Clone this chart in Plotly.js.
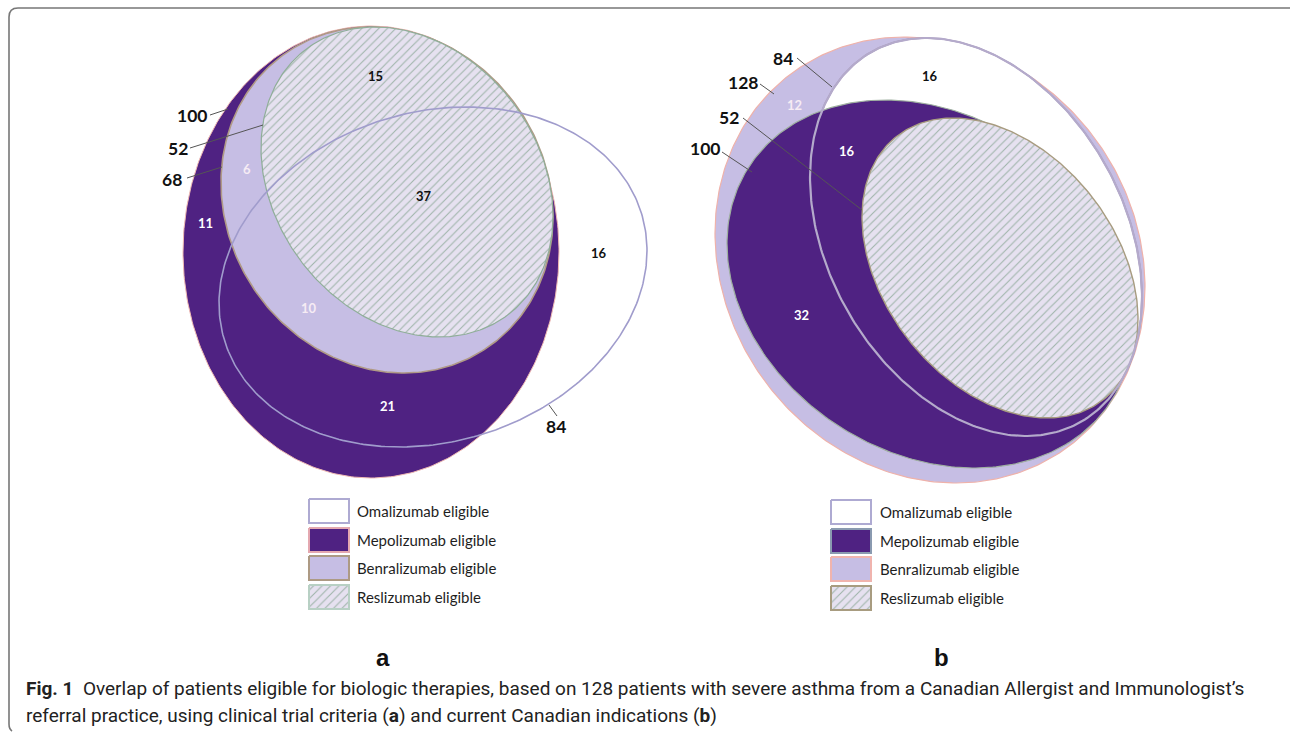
<!DOCTYPE html>
<html>
<head>
<meta charset="utf-8">
<script src="https://cdn.plot.ly/plotly-3.0.1.min.js"></script>
<style>
html,body{margin:0;padding:0;background:#fff;}
#chart{width:1292px;height:732px;}
</style>
</head>
<body>
<div id="chart"></div>
<script>
// ---------------- DATA ----------------
const setNames = ['Omalizumab eligible', 'Mepolizumab eligible', 'Benralizumab eligible', 'Reslizumab eligible'];
// set totals (Omalizumab, Mepolizumab, Benralizumab, Reslizumab)
const totalsA = [84, 100, 68, 52];
const totalsB = [84, 100, 128, 52];
// region counts
const regionCountsA = [15, 37, 16, 6, 11, 10, 21];
const regionCountsB = [16, 12, 16, 32];
const panelLabels = ['a', 'b'];
const captionBold = 'Fig. 1';
const captionLine1 = 'Overlap of patients eligible for biologic therapies, based on 128 patients with severe asthma from a Canadian Allergist and Immunologist\u2019s';
const captionLine2 = 'referral practice, using clinical trial criteria (<b>a</b>) and current Canadian indications (<b>b</b>)';

// ---------------- GEOMETRY / STYLE ----------------
const PURPLE = '#4f2282', LAV = '#c6bee4', HBG = '#e6e1f0', HFG = '#9fb4aa';
const geomA = {
  mepo:  {cx: 371, cy: 252, xh: 188, yh: 226, k: 0.0},
  benra: {cx: 387, cy: 200, xh: 166, yh: 173, k: 0.1},
  resli: {cx: 407, cy: 182, xh: 146, yh: 155, k: 0.22},
  omal:  {cx: 433, cy: 277, xh: 214, yh: 170, k: -0.155}
};
const geomB = {
  benra: {cx: 930, cy: 260, xh: 215, yh: 223, k: 0.12},
  omal:  {cx: 976, cy: 237, xh: 166, yh: 199, k: 0.3},
  mepo:  {cx: 930, cy: 284, xh: 203, yh: 184, k: 0.22},
  resli: {cx: 1000, cy: 268, xh: 138, yh: 150, k: 0.34}
};
function ellipse(e) {
  const xs = [], ys = [], s = Math.sqrt(1 - e.k * e.k);
  for (let i = 0; i <= 360; i++) {
    const t = i * Math.PI / 180;
    xs.push(e.cx + e.xh * Math.cos(t));
    ys.push(e.cy + e.yh * (e.k * Math.cos(t) + s * Math.sin(t)));
  }
  return {xs, ys};
}
function shapeTrace(e, fill, line, lw, pattern) {
  const p = ellipse(e);
  const tr = {x: p.xs, y: p.ys, type: 'scatter', mode: 'lines', hoverinfo: 'skip', showlegend: false,
    line: {color: line, width: lw}};
  if (fill) { tr.fill = 'toself'; tr.fillcolor = fill; }
  if (pattern) { tr.fill = 'toself'; tr.fillpattern = pattern; }
  return tr;
}
const hatch = {shape: '/', bgcolor: HBG, fgcolor: HFG, size: 6, solidity: 0.18};

const traces = [];
// Panel a
traces.push(shapeTrace(geomA.mepo, PURPLE, '#efb9b2', 1));
traces.push(shapeTrace(geomA.benra, LAV, '#b09a86', 1.6));
traces.push(shapeTrace(geomA.resli, null, '#8fae98', 1.2, hatch));
traces.push(shapeTrace(geomA.omal, null, '#a09ccc', 1.6));
// Panel b
traces.push(shapeTrace(geomB.benra, LAV, '#efb2aa', 1.2));
traces.push(shapeTrace(geomB.omal, '#ffffff', '#9a88aa', 1.6));
traces.push(shapeTrace(geomB.mepo, PURPLE, '#9fb0a0', 1.2));
traces.push(shapeTrace(geomB.resli, null, '#a89c80', 1.4, hatch));
traces.push(shapeTrace(geomB.omal, null, '#b4aacb', 2.2));

// Legends
const legendA = {x0: 309, x1: 349, y0: [499, 528, 556, 585], h: 24, tx: 355,
  fills: ['#ffffff', PURPLE, LAV, 'hatch'], lines: ['#aeaad2', '#e4a8b0', '#ad9a84', '#b8d0c4']};
const legendB = {x0: 831, x1: 871, y0: [500, 529, 557, 586], h: 24, tx: 878,
  fills: ['#ffffff', PURPLE, LAV, 'hatch'], lines: ['#aeaad2', '#8a9ab0', '#f0b4ae', '#a89c80']};
function legendTraces(L) {
  L.y0.forEach((y, i) => {
    const tr = {x: [L.x0, L.x1, L.x1, L.x0, L.x0], y: [y, y, y + L.h, y + L.h, y], type: 'scatter', mode: 'lines',
      hoverinfo: 'skip', showlegend: false, line: {color: L.lines[i], width: 2}, fill: 'toself'};
    if (L.fills[i] === 'hatch') tr.fillpattern = hatch; else tr.fillcolor = L.fills[i];
    traces.push(tr);
  });
}
legendTraces(legendA);
legendTraces(legendB);

// ---------------- ANNOTATIONS ----------------
const ann = [];
function txt(x, y, s, size, color, bold, family, extra) {
  ann.push(Object.assign({x, y, xref: 'x', yref: 'y', text: bold ? '<b>' + s + '</b>' : s, showarrow: false,
    font: {family: family || 'Lato, Open Sans, sans-serif', size, color}, xanchor: 'center', yanchor: 'middle'}, extra || {}));
}
// totals labels (order: Omal, Mepo, Benra, Resli)
const totPosA = [[556, 426], [192, 115], [172, 179], [178, 148]];
const totPosB = [[783, 58], [705, 148], [743, 82], [729, 117]];
totalsA.forEach((v, i) => txt(totPosA[i][0], totPosA[i][1], String(v), 17.5, '#111', true));
totalsB.forEach((v, i) => txt(totPosB[i][0], totPosB[i][1], String(v), 17.5, '#111', true));
// region labels
const regPosA = [[375, 76, '#111'], [424, 196, '#111'], [599, 253, '#111'], [247, 169, '#f6ecf4'], [205, 223, '#ffffff'], [309, 308, '#f6ecf4'], [387, 406, '#ffffff']];
const regPosB = [[930, 76, '#111'], [794, 105, '#f6ecf4'], [847, 151, '#ffffff'], [801, 315, '#ffffff']];
regionCountsA.forEach((v, i) => txt(regPosA[i][0], regPosA[i][1], String(v), 13, regPosA[i][2], true));
regionCountsB.forEach((v, i) => txt(regPosB[i][0], regPosB[i][1], String(v), 13, regPosB[i][2], true));
// legend text
setNames.forEach((s, i) => {
  txt(legendA.tx, legendA.y0[i] + legendA.h / 2, s, 15, '#1e1e1e', false, null, {xanchor: 'left'});
  txt(legendB.tx, legendB.y0[i] + legendB.h / 2, s, 15, '#1e1e1e', false, null, {xanchor: 'left'});
});
// panel letters
txt(383, 657, panelLabels[0], 24, '#111', true, 'Liberation Sans, Arial, sans-serif');
txt(941, 657, panelLabels[1], 24, '#111', true, 'Liberation Sans, Arial, sans-serif');
// caption
const capFont = 'Roboto, sans-serif';
ann.push({x: 24, y: 688, xref: 'x', yref: 'y', showarrow: false, xanchor: 'left', yanchor: 'middle',
  text: '<b>' + captionBold + '</b>  ' + captionLine1, font: {family: capFont, size: 19, color: '#222'}});
ann.push({x: 24, y: 715, xref: 'x', yref: 'y', showarrow: false, xanchor: 'left', yanchor: 'middle',
  text: captionLine2, font: {family: capFont, size: 19, color: '#222'}});

// ---------------- SHAPES (leader lines, frame) ----------------
const leaders = [
  [210, 115, 228, 109], [190, 148, 263, 125], [187, 178, 222, 167], [557, 416, 549, 405],
  [797, 58, 832, 87], [760, 84, 774, 94], [743, 118, 862, 210], [722, 152, 752, 172]
];
const shapes = leaders.map(l => ({type: 'line', xref: 'x', yref: 'y', x0: l[0], y0: l[1], x1: l[2], y1: l[3],
  line: {color: '#555', width: 1}}));
shapes.push({type: 'path', xref: 'x', yref: 'y', path: 'M 1290 8 L 18 8 Q 9 8 9 17 L 9 724 Q 9 729 12 731',
  line: {color: '#777', width: 1.6}});

const layout = {
  width: 1292, height: 732, margin: {l: 0, r: 0, t: 0, b: 0},
  paper_bgcolor: '#fff', plot_bgcolor: '#fff', showlegend: false,
  xaxis: {range: [0, 1292], visible: false, fixedrange: true},
  yaxis: {range: [732, 0], visible: false, fixedrange: true},
  annotations: ann, shapes: shapes
};
Plotly.newPlot('chart', traces, layout, {staticPlot: true, displayModeBar: false});
</script>
</body>
</html>
